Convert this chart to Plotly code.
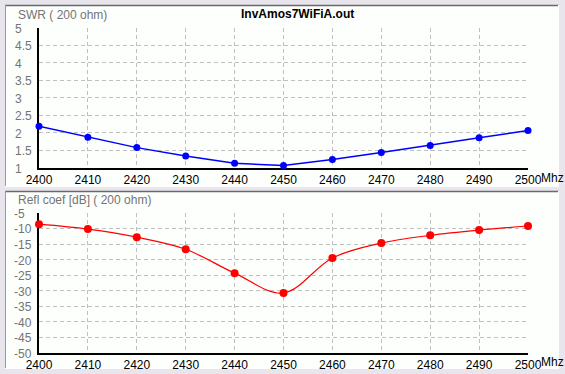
import plotly.graph_objects as go

freq = [2400, 2410, 2420, 2430, 2440, 2450, 2460, 2470, 2480, 2490, 2500]
swr = [2.18, 1.87, 1.57, 1.33, 1.12, 1.06, 1.23, 1.43, 1.63, 1.85, 2.06]
refl_db = [-8.6, -10.2, -12.8, -16.7, -24.4, -30.8, -19.5, -14.7, -12.2, -10.5, -9.2]

x_ticks = [2400, 2410, 2420, 2430, 2440, 2450, 2460, 2470, 2480, 2490, 2500]
x_ticktext = ["2400", "2410", "2420", "2430", "2440", "2450", "2460", "2470", "2480", "2490", "2500"]
swr_ticks = [1, 1.5, 2, 2.5, 3, 3.5, 4, 4.5, 5]
swr_ticktext = ["1", "1.5", "2", "2.5", "3", "3.5", "4", "4.5", "5"]
db_ticks = [-50, -45, -40, -35, -30, -25, -20, -15, -10, -5]
db_ticktext = ["-50", "-45", "-40", "-35", "-30", "-25", "-20", "-15", "-10", "-5"]

title_text = "InvAmos7WiFiA.out"
top_label = "SWR ( 200 ohm)"
bottom_label = "Refl coef [dB] ( 200 ohm)"
unit_label = "Mhz"

W, H = 565, 374
def px(x):
    return x / W
def py(y):
    return 1 - y / H

FONT = "Liberation Sans, Arial, sans-serif"
GRID = "#c0c0c0"
GRAYTXT = "#747474"
PANEL = "#fcfffc"
BG = "#e9e5ec"

fig = go.Figure()
fig.add_trace(go.Scatter(x=freq, y=swr, xaxis="x", yaxis="y", mode="lines+markers",
                         line=dict(color="#0000ff", width=1.5),
                         marker=dict(color="#0000ff", size=7), cliponaxis=False,
                         showlegend=False))
fig.add_trace(go.Scatter(x=freq, y=refl_db, xaxis="x2", yaxis="y2", mode="lines+markers",
                         line=dict(color="#ff0000", width=1.2, shape="spline", smoothing=1.0),
                         marker=dict(color="#ff0000", size=8), cliponaxis=False,
                         showlegend=False))

xdom = [px(39), px(528)]
axis_common = dict(showgrid=True, gridcolor=GRID, griddash="4px,3px", gridwidth=1,
                   zeroline=False, showline=True, linecolor="black", linewidth=2,
                   ticks="", layer="below traces", automargin=False)

fig.update_layout(
    template="none",
    width=W, height=H, autosize=False,
    margin=dict(l=0, r=0, t=0, b=0, pad=0),
    paper_bgcolor=BG, plot_bgcolor=PANEL,
    font=dict(family=FONT, size=12, color="black"),
    xaxis=dict(domain=xdom, range=[2400, 2500], anchor="y", tickvals=x_ticks,
               ticktext=x_ticktext, tickfont=dict(size=12, color="black"), **axis_common),
    yaxis=dict(domain=[py(167.5), py(28)], range=[1, 5], anchor="x", tickvals=swr_ticks,
               showticklabels=False, **axis_common),
    xaxis2=dict(domain=xdom, range=[2400, 2500], anchor="y2", tickvals=x_ticks,
                ticktext=x_ticktext, tickfont=dict(size=12, color="black"), **axis_common),
    yaxis2=dict(domain=[py(352.5), py(213)], range=[-50, -5], anchor="x2", tickvals=db_ticks,
                showticklabels=False, **axis_common),
)

shapes = []
for (y0, y1) in [(5, 187), (191, 369)]:
    shapes.append(dict(type="rect", xref="paper", yref="paper", x0=px(5), x1=px(559),
                       y0=py(y1), y1=py(y0), fillcolor=PANEL, line=dict(width=0), layer="below"))
    shapes.append(dict(type="line", xref="paper", yref="paper", x0=px(5), x1=px(559),
                       y0=py(y0 + 0.5), y1=py(y0 + 0.5), line=dict(color="#6a6a6a", width=1.5), layer="below"))
    shapes.append(dict(type="line", xref="paper", yref="paper", x0=px(5.5), x1=px(5.5),
                       y0=py(y1), y1=py(y0), line=dict(color="#9a9a9a", width=1), layer="below"))
    shapes.append(dict(type="line", xref="paper", yref="paper", x0=px(558.5), x1=px(558.5),
                       y0=py(y1), y1=py(y0), line=dict(color="#ffffff", width=1), layer="below"))
    shapes.append(dict(type="line", xref="paper", yref="paper", x0=px(5), x1=px(559),
                       y0=py(y1 - 0.5), y1=py(y1 - 0.5), line=dict(color="#ffffff", width=1), layer="below"))
fig.update_layout(shapes=shapes)

ann = []
for v, t in zip(swr_ticks, swr_ticktext):
    ann.append(dict(x=px(13), xref="paper", y=v, yref="y", text=t, showarrow=False,
                    xanchor="left", yanchor="middle", yshift=-1,
                    font=dict(size=12, color=GRAYTXT, family=FONT)))
for v, t in zip(db_ticks, db_ticktext):
    ann.append(dict(x=px(12), xref="paper", y=v, yref="y2", text=t, showarrow=False,
                    xanchor="left", yanchor="middle", yshift=-1,
                    font=dict(size=12, color=GRAYTXT, family=FONT)))
ann.append(dict(x=px(16), xref="paper", y=py(15), yref="paper", text=top_label, showarrow=False,
                xanchor="left", yanchor="middle", font=dict(size=12, color=GRAYTXT, family=FONT)))
ann.append(dict(x=px(16), xref="paper", y=py(200), yref="paper", text=bottom_label, showarrow=False,
                xanchor="left", yanchor="middle", font=dict(size=12, color=GRAYTXT, family=FONT)))
ann.append(dict(x=px(297), xref="paper", y=py(14), yref="paper", text="<b>" + title_text + "</b>",
                showarrow=False, xanchor="center", yanchor="middle",
                font=dict(size=12, color="black", family=FONT)))
for yy in [178, 362]:
    ann.append(dict(x=px(539), xref="paper", y=py(yy), yref="paper", text=unit_label, showarrow=False,
                    xanchor="left", yanchor="middle", font=dict(size=12, color="black", family=FONT)))
fig.update_layout(annotations=ann)

fig.write_html("out.html", config={"displayModeBar": False},
               post_script="document.body.style.margin='0';document.body.style.padding='0';document.body.style.overflow='hidden';")
